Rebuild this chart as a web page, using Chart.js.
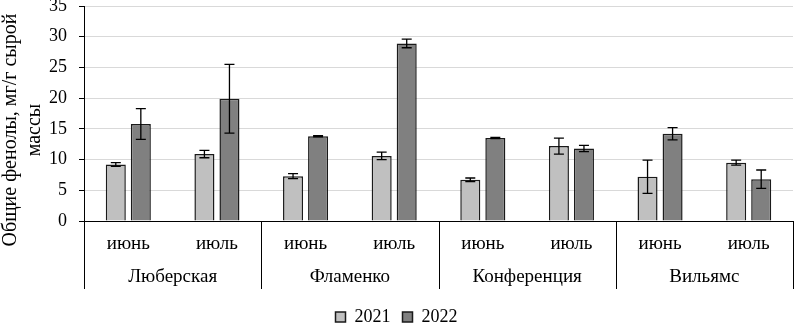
<!DOCTYPE html>
<html>
<head>
<meta charset="utf-8">
<script src="https://cdn.jsdelivr.net/npm/chart.js@4"></script>
<style>
  html, body { margin: 0; padding: 0; background: #fff; }
  #wrap { width: 794px; height: 324px; }
</style>
</head>
<body>
<div id="wrap"><canvas id="myChart" width="794" height="324"></canvas></div>
<script>
// Данные
var varieties = ['Люберская', 'Фламенко', 'Конференция', 'Вильямс'];
var months = ['июнь', 'июль'];
var years = ['2021', '2022'];
var values2021 = [9.2, 10.9, 7.3, 10.6, 6.7, 12.2, 7.2, 9.5];
var errors2021 = [0.3, 0.6, 0.4, 0.6, 0.3, 1.3, 2.7, 0.4];
var values2022 = [15.8, 19.9, 13.8, 28.9, 13.5, 11.8, 14.2, 6.8];
var errors2022 = [2.5, 5.6, 0.1, 0.7, 0.1, 0.5, 1.0, 1.5];
var yTicks = [0, 5, 10, 15, 20, 25, 30, 35];
var yTitle = ['Общие фенолы, мг/г сырой', 'массы'];

var FONT = 'Liberation Serif';

var labels = [];
varieties.forEach(function() {
  months.forEach(function(m) { labels.push(m); });
});

// error bars drawn from the y scale
var errorBars = {
  id: 'errorBars',
  afterDatasetsDraw: function(chart) {
    var ctx = chart.ctx;
    var y = chart.scales.y;
    var errs = [errors2021, errors2022];
    ctx.save();
    ctx.strokeStyle = '#000';
    ctx.lineWidth = 1.3;
    chart.data.datasets.forEach(function(ds, di) {
      var meta = chart.getDatasetMeta(di);
      meta.data.forEach(function(bar, i) {
        var v = ds.data[i], e = errs[di][i];
        var top = y.getPixelForValue(v + e);
        var bot = y.getPixelForValue(v - e);
        var x = bar.x;
        ctx.beginPath();
        ctx.moveTo(x, top); ctx.lineTo(x, bot);
        ctx.moveTo(x - 5, top); ctx.lineTo(x + 5, top);
        ctx.moveTo(x - 5, bot); ctx.lineTo(x + 5, bot);
        ctx.stroke();
      });
    });
    ctx.restore();
  }
};

// second level of the x axis (variety names, separators) and the y title
var groupAxis = {
  id: 'groupAxis',
  afterLayout: function(chart) {
    // push the legend row down to the bottom edge
    chart.legend.top += 12;
    chart.legend.bottom += 12;
  },
  afterDraw: function(chart) {
    var ctx = chart.ctx;
    var x = chart.scales.x;
    var n = varieties.length;
    var w = (x.right - x.left) / n;
    var base = x.top;
    ctx.save();
    ctx.strokeStyle = '#000';
    ctx.lineWidth = 1;
    for (var i = 0; i <= n; i++) {
      var px = Math.round(x.left + i * w) + 0.5;
      ctx.beginPath();
      ctx.moveTo(px, base);
      ctx.lineTo(px, 289);
      ctx.stroke();
    }
    ctx.fillStyle = '#000';
    ctx.font = '19px "' + FONT + '"';
    ctx.textAlign = 'center';
    ctx.textBaseline = 'middle';
    varieties.forEach(function(name, i) {
      ctx.fillText(name, x.left + (i + 0.5) * w, 277);
    });

    // y axis title, two lines
    ctx.font = '20px "' + FONT + '"';
    ctx.translate(0, 130);
    ctx.rotate(-Math.PI / 2);
    ctx.fillText(yTitle[0], 0, 11);
    ctx.fillText(yTitle[1], 0, 35);
    ctx.restore();
  }
};

document.addEventListener('DOMContentLoaded', function() {
  var data = {
    labels: labels,
    datasets: [{
      label: years[0],
      data: values2021,
      backgroundColor: '#c0c0c0',
      borderColor: '#1a1a1a',
      borderWidth: 1.5,
      categoryPercentage: 0.565,
      barPercentage: 0.8
    }, {
      label: years[1],
      data: values2022,
      backgroundColor: '#808080',
      borderColor: '#1a1a1a',
      borderWidth: 1.5,
      categoryPercentage: 0.565,
      barPercentage: 0.8
    }]
  };

  var options = {
    responsive: false,
    animation: false,
    layout: { padding: { top: 6, right: 1, left: 0, bottom: 0 } },
    scales: {
      x: {
        grid: { display: false, drawTicks: false },
        border: { display: true, color: '#000', width: 1 },
        ticks: {
          color: '#000',
          font: { family: FONT, size: 19 },
          padding: 12,
          maxRotation: 0,
          autoSkip: false
        },
        afterFit: function(scale) { scale.height = 63; }
      },
      y: {
        min: 0,
        max: 35,
        afterBuildTicks: function(scale) {
          scale.ticks = yTicks.map(function(v) { return { value: v }; });
        },
        grid: { color: '#d9d9d9', lineWidth: 1, tickColor: '#000', tickLength: 5 },
        border: { display: true, color: '#000', width: 1 },
        ticks: {
          color: '#000',
          font: { family: FONT, size: 18 },
          padding: 12
        },
        afterFit: function(scale) {
          scale.width = 84;
          scale.paddingTop = 0;
          scale.paddingBottom = 0;
        }
      }
    },
    plugins: {
      legend: {
        position: 'bottom',
        labels: {
          color: '#000',
          font: { family: FONT, size: 18 },
          boxWidth: 10,
          boxHeight: 10,
          padding: 12
        }
      },
      tooltip: { enabled: false }
    }
  };

  var ctx = document.getElementById('myChart').getContext('2d');
  var myChart = new Chart(ctx, {
    type: 'bar',
    data: data,
    options: options,
    plugins: [errorBars, groupAxis]
  });
});
</script>
</body>
</html>
